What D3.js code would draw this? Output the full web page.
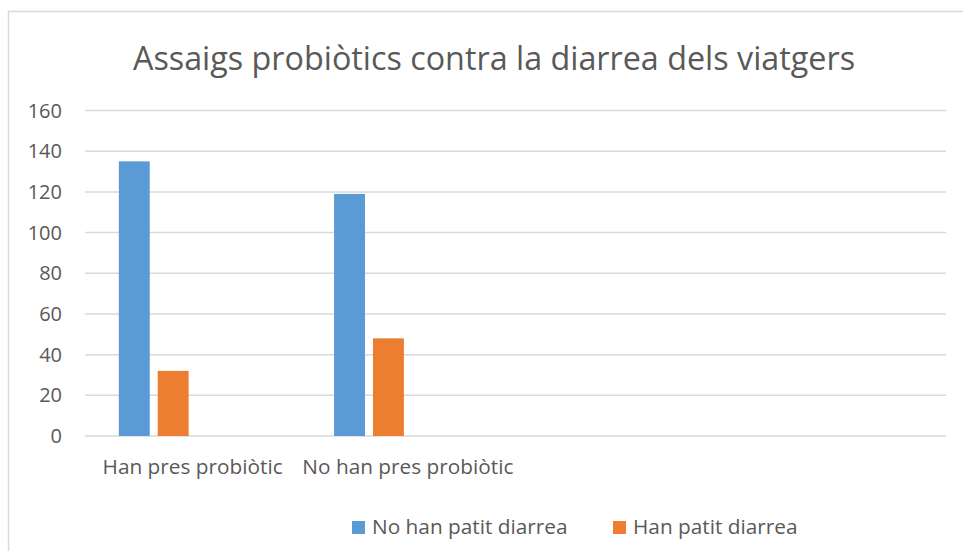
<!DOCTYPE html>
<html>
<head>
<meta charset="utf-8">
<script src="https://cdn.jsdelivr.net/npm/d3@7"></script>
<style>
  body { margin: 0; background: #fff; }
  text { font-family: "Open Sans", "Noto Sans", sans-serif; fill: #595959; }
</style>
</head>
<body>
<div id="chart"></div>
<script>
// chart data
let categories = ["Han pres probiòtic", "No han pres probiòtic", "", ""];
let seriesNames = ["No han patit diarrea", "Han patit diarrea"];
let noDiarrea = [135, 119];
let withDiarrea = [32, 48];
let seriesColors = ["#5B9BD5", "#ED7D31"];
let yTicks = [0, 20, 40, 60, 80, 100, 120, 140, 160];
let slots = ["s1", "s2", "s3", "s4"]; // excel reserves room for 4 series per group

let width = 963;
let height = 551;
let margin = {top: 110.5, bottom: 115, left: 85, right: 17};

let svg = d3.select("#chart")
    .append("svg")
    .attr("width", width)
    .attr("height", height);

// outer chart frame
svg.append("rect")
    .attr("x", 8.5)
    .attr("y", 11.5)
    .attr("width", width + 10)
    .attr("height", height + 10)
    .attr("fill", "none")
    .attr("stroke", "#d9d9d9")
    .attr("stroke-width", 1.5);

svg.append("text")
    .attr("x", 494)
    .attr("y", 70)
    .attr("text-anchor", "middle")
    .attr("font-size", "32.3px")
    .text("Assaigs probiòtics contra la diarrea dels viatgers");

let x = d3.scaleBand()
    .domain(d3.range(categories.length))
    .range([margin.left, width - margin.right]);

let xInner = d3.scaleBand()
    .domain(slots)
    .range([0, x.bandwidth()])
    .paddingInner(0.205)
    .paddingOuter(0.87);

let y = d3.scaleLinear()
    .domain([0, 160])
    .range([height - margin.bottom, margin.top]);

// gridlines
svg.append("g")
    .selectAll("line")
    .data(yTicks)
    .join("line")
        .attr("x1", margin.left)
        .attr("x2", width - margin.right)
        .attr("y1", d => y(d))
        .attr("y2", d => y(d))
        .attr("stroke", "#d9d9d9")
        .attr("stroke-width", 1.5);

// y tick labels
svg.append("g")
    .selectAll("text")
    .data(yTicks)
    .join("text")
        .attr("x", 62)
        .attr("y", d => y(d))
        .attr("dy", "0.35em")
        .attr("text-anchor", "end")
        .attr("font-size", "20px")
        .text(d => d);

// bars
let seriesData = [noDiarrea, withDiarrea];
seriesData.forEach(function(values, s) {
    svg.append("g")
        .attr("fill", seriesColors[s])
        .selectAll("rect")
        .data(values)
        .join("rect")
            .attr("x", (d, i) => x(i) + xInner(slots[s]))
            .attr("y", d => y(d))
            .attr("width", xInner.bandwidth())
            .attr("height", d => y(0) - y(d));
});

// category labels
svg.append("g")
    .selectAll("text")
    .data(categories)
    .join("text")
        .attr("x", (d, i) => x(i) + x.bandwidth() / 2)
        .attr("y", 474)
        .attr("text-anchor", "middle")
        .attr("font-size", "20.8px")
        .text(d => d);

// legend
let legendX = [352, 613];
let legend = svg.append("g")
    .selectAll("g")
    .data(seriesNames)
    .join("g")
        .attr("transform", (d, i) => `translate(${legendX[i]}, 521)`);

legend.append("rect")
    .attr("width", 13)
    .attr("height", 13)
    .attr("fill", (d, i) => seriesColors[i]);

legend.append("text")
    .attr("x", 20)
    .attr("y", 13)
    .attr("font-size", "20.8px")
    .text(d => d);
</script>
</body>
</html>
